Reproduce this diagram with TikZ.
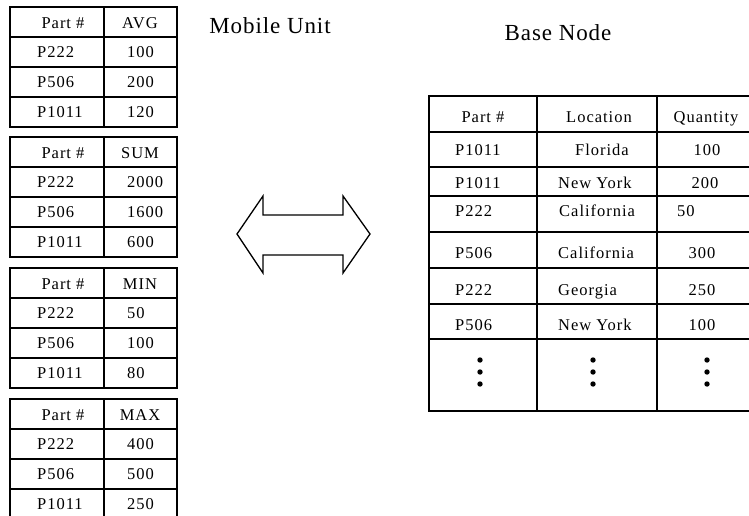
\documentclass[tikz,border=0pt]{standalone}
\usepackage{fontspec}
\setmainfont{Liberation Serif}
\newfontfamily\cellfont[LetterSpace=6]{Liberation Serif}
\newfontfamily\headfont[LetterSpace=4]{Liberation Serif}

\begin{document}
\begin{tikzpicture}[x=1pt,y=-1pt,
  grid/.style={line width=1.3pt, draw=black},
  celltext/.style={font=\cellfont\fontsize{16.5}{19}\selectfont, inner sep=0pt, anchor=base},
  cellleft/.style={celltext, anchor=base west},
  titletext/.style={font=\headfont\fontsize{23}{27}\selectfont, inner sep=0pt, anchor=base},
  dot/.style={circle, fill=black, inner sep=0pt, minimum size=5.4pt},
  swap/.style={line width=1.3pt, draw=black, line join=miter}]
\useasboundingbox (0,0) rectangle (749,515);
\clip (0,0) rectangle (749,515);

% titles
\node[titletext] (mobile) at (270,33) {Mobile Unit};
\node[titletext] (base) at (558,40) {Base Node};

% aggregate tables held by the mobile unit
\foreach \top/\hd/\va/\vb/\vc [count=\t] in
  {7/AVG/100/200/120, 137/SUM/2000/1600/600, 268/MIN/50/100/80, 399/MAX/400/500/250} {
  \draw[grid] (10,\top) rectangle (177,\top+120);
  \draw[grid] (104,\top) -- (104,\top+120);
  \foreach \k in {1,2,3}
    \draw[grid] (10,\top+30*\k) -- (177,\top+30*\k);
  \node[celltext] (m\t-h1) at (63,\top+21) {Part \#};
  \node[celltext] (m\t-h2) at (140,\top+21) {\hd};
  \node[cellleft] (m\t-p1) at (37,\top+50) {P222};
  \node[cellleft] (m\t-p2) at (37,\top+80) {P506};
  \node[cellleft] (m\t-p3) at (37,\top+110) {P1011};
  \node[cellleft] (m\t-v1) at (127,\top+50) {\va};
  \node[cellleft] (m\t-v2) at (127,\top+80) {\vb};
  \node[cellleft] (m\t-v3) at (127,\top+110) {\vc};
}

% two-way transfer arrow
\draw[swap] (237,234) -- (263,196) -- (263,215) -- (343,215) -- (343,196)
  -- (370,234) -- (343,273) -- (343,255) -- (263,255) -- (263,273) -- cycle;

% inventory table at the base node
\draw[grid] (429,96) rectangle (753,411);
\foreach \x in {537,657}
  \draw[grid] (\x,96) -- (\x,411);
\foreach \y in {132,167,196,232,268,304,339}
  \draw[grid] (429,\y) -- (753,\y);

\node[celltext] (b-h1) at (483,122) {Part \#};
\node[celltext] (b-h2) at (599,122) {Location};
\node[celltext] (b-h3) at (706,122) {Quantity};

\node[cellleft] (b-p1) at (455,155) {P1011};
\node[celltext] (b-l1) at (602,155) {Florida};
\node[celltext] (b-q1) at (707,155) {100};

\node[cellleft] (b-p2) at (455,188) {P1011};
\node[cellleft] (b-l2) at (558,188) {New York};
\node[celltext] (b-q2) at (705,188) {200};

\node[cellleft] (b-p3) at (455,216) {P222};
\node[cellleft] (b-l3) at (559,216) {California};
\node[cellleft] (b-q3) at (677,216) {50};

\node[cellleft] (b-p4) at (455,258) {P506};
\node[cellleft] (b-l4) at (558,258) {California};
\node[celltext] (b-q4) at (702,258) {300};

\node[cellleft] (b-p5) at (455,295) {P222};
\node[cellleft] (b-l5) at (558,295) {Georgia};
\node[celltext] (b-q5) at (702,295) {250};

\node[cellleft] (b-p6) at (455,330) {P506};
\node[cellleft] (b-l6) at (558,330) {New York};
\node[celltext] (b-q6) at (702,330) {100};

% continuation marks
\foreach \x [count=\c] in {480,593,707}
  \foreach \y [count=\r] in {360,372,384}
    \node[dot] (more-\c-\r) at (\x,\y) {};
\end{tikzpicture}
\end{document}
